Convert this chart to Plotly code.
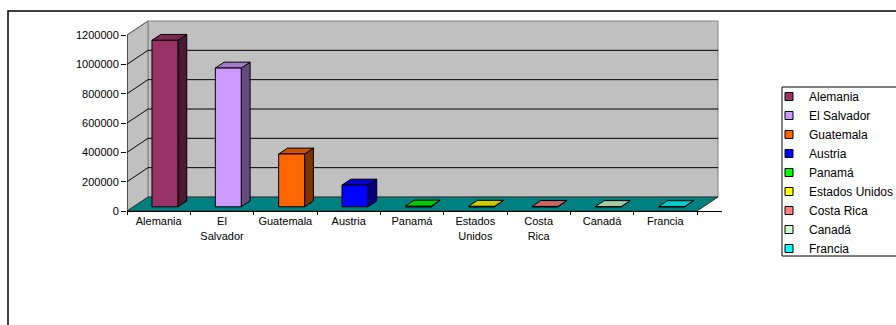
import plotly.graph_objects as go

# ---------------- data ----------------
paises = ["Alemania", "El Salvador", "Guatemala", "Austria", "Panamá",
          "Estados Unidos", "Costa Rica", "Canadá", "Francia"]
etiquetas_x = ["Alemania", "El<br>Salvador", "Guatemala", "Austria", "Panamá",
               "Estados<br>Unidos", "Costa<br>Rica", "Canadá", "Francia"]
valores = [1135000, 946000, 360000, 148000, 5000, 4000, 2500, 2000, 1500]
y_ticks = [0, 200000, 400000, 600000, 800000, 1000000, 1200000]
colores = ["#993366", "#CC99FF", "#FF6600", "#0000FF", "#00FF00",
           "#FFFF00", "#FF8080", "#CCFFCC", "#00FFFF"]

# ---------------- geometry (pixels of the page) ----------------
W, H = 896, 325
PL, PR, PT, PB = 127, 722, 15, 211          # plot area in page pixels
N = len(paises)
CAT_PX = 570 / N                            # pixels per category
VMAX = y_ticks[-1]
VAL_PX = 176 / VMAX                         # pixels per value unit
DDX = 21 / CAT_PX                           # depth offset (data units)
DDY = 14 / VAL_PX
D0, D1 = 0.30, 0.72                         # bar depth (fraction)
HW = 0.205                                  # bar half width (categories)

XR = [0, (PR - PL) / CAT_PX]
YR = [0, (PB - PT) / VAL_PX]


def px_x(p):
    return (p - PL) / (PR - PL)


def px_y(p):
    return (PB - p) / (PB - PT)


def shade(hexc, f):
    h = hexc.lstrip("#")
    r, g, b = (int(h[i:i + 2], 16) for i in (0, 2, 4))
    return "#%02X%02X%02X" % (int(r * f), int(g * f), int(b * f))


fig = go.Figure()


def poly(xs, ys, fill, line="black", lw=1):
    fig.add_trace(go.Scatter(
        x=list(xs) + [xs[0]], y=list(ys) + [ys[0]], mode="lines",
        fill="toself", fillcolor=fill, line=dict(color=line, width=lw),
        showlegend=False, hoverinfo="skip"))


def seg(xs, ys, color="black", lw=1):
    fig.add_trace(go.Scatter(x=xs, y=ys, mode="lines",
                             line=dict(color=color, width=lw),
                             showlegend=False, hoverinfo="skip"))


# back wall
poly([DDX, N + DDX, N + DDX, DDX], [DDY, DDY, VMAX + DDY, VMAX + DDY],
     "#C0C0C0", "#808080")
# side wall
poly([0, DDX, DDX, 0], [0, DDY, VMAX + DDY, VMAX], "#C0C0C0", "#808080")
# gridlines on walls
for v in y_ticks[1:-1]:
    seg([DDX, N + DDX], [v + DDY, v + DDY])
for v in y_ticks[1:]:
    seg([0, DDX], [v, v + DDY], "black" if v < VMAX else "#606060")
# floor
poly([0, N, N + DDX, DDX], [0, 0, DDY, DDY], "#008080", "#303030")
# front vertical edge (value axis)
seg([0, 0], [0, VMAX])

# bars
for i, (v, c) in enumerate(zip(valores, colores)):
    xl, xr = i + 0.5 - HW, i + 0.5 + HW
    ox0, oy0 = D0 * DDX, D0 * DDY
    ox1, oy1 = D1 * DDX, D1 * DDY
    # side
    poly([xr + ox0, xr + ox1, xr + ox1, xr + ox0],
         [oy0, oy1, v + oy1, v + oy0], shade(c, 0.5))
    # top
    poly([xl + ox0, xr + ox0, xr + ox1, xl + ox1],
         [v + oy0, v + oy0, v + oy1, v + oy1], shade(c, 0.8))
    # front
    poly([xl + ox0, xr + ox0, xr + ox0, xl + ox0],
         [oy0, oy0, v + oy0, v + oy0], c)

# legend entries
for p, c in zip(paises, colores):
    fig.add_trace(go.Scatter(
        x=[None], y=[None], mode="markers", name=p,
        marker=dict(symbol="square", size=8, color=c,
                    line=dict(color="black", width=1))))

FONT = "Liberation Sans, Arial, sans-serif"

fig.update_layout(
    width=W, height=H,
    margin=dict(l=PL, r=W - PR, t=PT, b=H - PB, pad=0, autoexpand=False),
    paper_bgcolor="white", plot_bgcolor="rgba(0,0,0,0)",
    font=dict(family=FONT, size=11, color="black"),
    showlegend=True,
    legend=dict(x=px_x(769), y=px_y(82), xanchor="left", yanchor="top",
                bgcolor="rgba(0,0,0,0)", borderwidth=0,
                font=dict(family=FONT, size=12, color="black"),
                tracegroupgap=0),
    xaxis=dict(range=XR, showgrid=False, zeroline=False, showline=True,
               linecolor="black", linewidth=1,
               tickmode="array", tickvals=[i + 0.5 for i in range(N)],
               ticktext=etiquetas_x, ticks="",
               minor=dict(tickmode="array", tickvals=list(range(N + 1)),
                          ticks="outside", ticklen=3, tickcolor="black",
                          showgrid=False),
               fixedrange=True),
    yaxis=dict(range=YR, showgrid=False, zeroline=False, showline=False,
               tickmode="array", tickvals=y_ticks,
               ticktext=[str(t) for t in y_ticks],
               ticks="outside", ticklen=5, tickcolor="black",
               fixedrange=True),
    shapes=[
        # outer chart border
        dict(type="rect", xref="paper", yref="paper",
             x0=px_x(8), x1=px_x(905), y0=px_y(11), y1=px_y(340),
             line=dict(color="black", width=1.5), layer="below"),
        # legend box
        dict(type="rect", xref="paper", yref="paper",
             x0=px_x(782), x1=px_x(905), y0=px_y(87), y1=px_y(256),
             line=dict(color="black", width=1), fillcolor="white",
             layer="below"),
    ],
)

fig.write_html("out.html",
               config={"displayModeBar": False, "staticPlot": True},
               post_script="document.body.style.margin='0';"
                           "document.body.style.overflow='hidden';")
